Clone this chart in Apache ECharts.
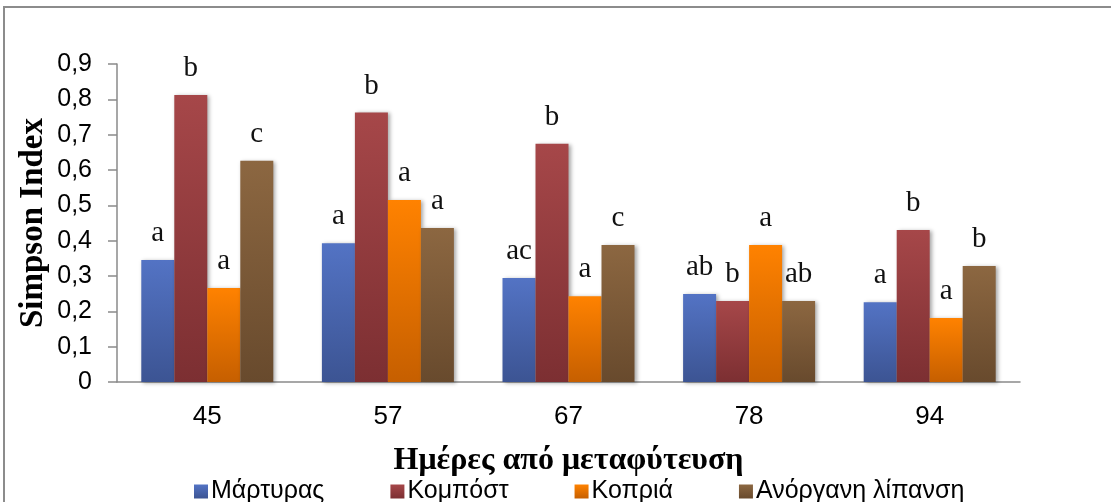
<!DOCTYPE html>
<html>
<head>
<meta charset="utf-8">
<script src="https://cdn.jsdelivr.net/npm/echarts@6/dist/echarts.min.js"></script>
<style>
html,body{margin:0;padding:0;background:#fff;}
#chart{width:1111px;height:502px;}
</style>
</head>
<body>
<div id="chart"></div>
<script>
var categories = ['45', '57', '67', '78', '94'];
var seriesNames = ['Μάρτυρας', 'Κομπόστ', 'Κοπριά', 'Ανόργανη λίπανση'];
var martyras = [0.345, 0.393, 0.294, 0.249, 0.226];
var kompost = [0.812, 0.763, 0.674, 0.229, 0.430];
var kopria = [0.266, 0.515, 0.243, 0.388, 0.181];
var anorgani = [0.626, 0.436, 0.388, 0.229, 0.328];
var lettersMartyras = ['a', 'a', 'ac', 'ab', 'a'];
var lettersKompost = ['b', 'b', 'b', 'b', 'b'];
var lettersKopria = ['a', 'a', 'a', 'a', 'a'];
var lettersAnorgani = ['c', 'a', 'c', 'ab', 'b'];
var yTitle = 'Simpson Index';
var xTitle = 'Ημέρες από μεταφύτευση';

var colors = [
  ['#5373C4', '#3C5493'],
  ['#A64749', '#7C2F32'],
  ['#FF8200', '#C65F00'],
  ['#8C6741', '#684A2D']
];
function grad(c) {
  return new echarts.graphic.LinearGradient(0, 0, 0, 1, [
    {offset: 0, color: c[0]}, {offset: 1, color: c[1]}
  ]);
}
var values = [martyras, kompost, kopria, anorgani];
var letters = [lettersMartyras, lettersKompost, lettersKopria, lettersAnorgani];

var chart = echarts.init(document.getElementById('chart'));
var series = seriesNames.map(function (name, i) {
  return {
    name: name,
    type: 'bar',
    barWidth: 33,
    barGap: '0%',
    data: values[i],
    itemStyle: {
      color: grad(colors[i]),
      shadowColor: 'rgba(0,0,0,0.35)',
      shadowBlur: 4,
      shadowOffsetX: 2,
      shadowOffsetY: 1
    },
    label: {
      show: true,
      position: 'top',
      distance: 12,
      fontFamily: '"Liberation Serif", serif',
      fontSize: 29,
      color: '#111',
      formatter: function (p) { return letters[i][p.dataIndex]; }
    }
  };
});

chart.setOption({
  animation: false,
  backgroundColor: '#fff',
  graphic: [{
    type: 'rect',
    shape: {x: 4, y: 7, width: 1300, height: 700},
    style: {fill: 'none', stroke: '#8c8c8c', lineWidth: 2},
    silent: true
  }, {
    type: 'text',
    x: 33,
    y: 223,
    rotation: Math.PI / 2,
    style: {
      text: yTitle,
      fontFamily: '"Liberation Serif", serif',
      fontWeight: 'bold',
      fontSize: 33,
      fill: '#000',
      align: 'center',
      verticalAlign: 'middle'
    },
    silent: true
  }],
  grid: {left: 117, right: 91, top: 64, bottom: 120},
  legend: {
    top: 474,
    left: 189,
    itemWidth: 14,
    itemHeight: 14,
    itemGap: 66,
    icon: 'rect',
    textStyle: {fontFamily: '"Liberation Sans", Arial, sans-serif', fontSize: 25, color: '#000', padding: [0, 0, 0, -2]},
    data: seriesNames
  },
  xAxis: {
    type: 'category',
    data: categories,
    name: xTitle,
    nameLocation: 'middle',
    nameGap: 63,
    nameTextStyle: {fontFamily: '"Liberation Serif", serif', fontWeight: 'bold', fontSize: 32, color: '#000'},
    axisLine: {lineStyle: {color: '#8a8a8a', width: 1.5}},
    axisTick: {show: false},
    axisLabel: {margin: 22, fontFamily: '"Liberation Sans", Arial, sans-serif', fontSize: 26, color: '#000'}
  },
  yAxis: {
    type: 'value',
    min: 0,
    max: 0.9,
    interval: 0.1,
    axisLine: {show: true, lineStyle: {color: '#8a8a8a', width: 1.5}},
    axisTick: {show: true, length: 9, lineStyle: {color: '#8a8a8a', width: 1.5}},
    splitLine: {show: false},
    axisLabel: {
      margin: 25,
      fontFamily: '"Liberation Sans", Arial, sans-serif',
      fontSize: 25,
      color: '#000',
      formatter: function (v) { return v === 0 ? '0' : v.toFixed(1).replace('.', ','); }
    }
  },
  series: series
});
</script>
</body>
</html>
